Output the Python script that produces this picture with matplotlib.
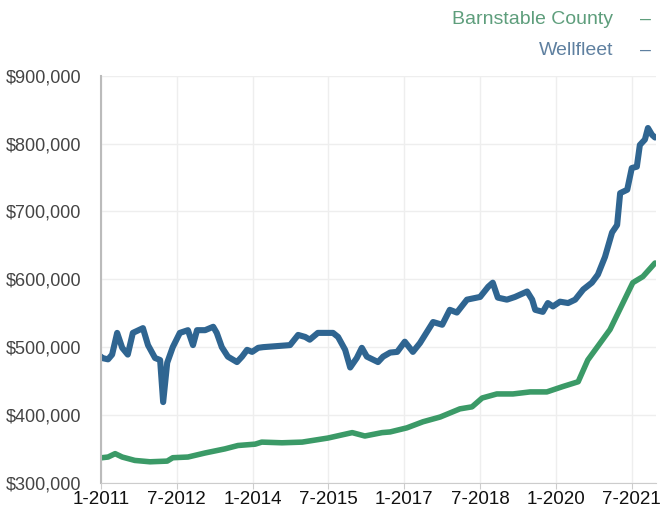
import matplotlib.pyplot as plt
import matplotlib.ticker as mticker

# median sale price, x = decimal year
wellfleet_t = [2011.00, 2011.02, 2011.14, 2011.22, 2011.32, 2011.42, 2011.53, 2011.63, 2011.83, 2011.93,
               2012.07, 2012.17, 2012.23, 2012.31, 2012.42, 2012.56, 2012.72, 2012.82, 2012.90, 2013.06,
               2013.22, 2013.29, 2013.39, 2013.51, 2013.69, 2013.79, 2013.89, 2013.99, 2014.11, 2014.21,
               2014.74, 2014.90, 2015.04, 2015.13, 2015.29, 2015.59, 2015.69, 2015.83, 2015.93, 2016.06,
               2016.16, 2016.26, 2016.48, 2016.58, 2016.72, 2016.86, 2017.01, 2017.17, 2017.31, 2017.57,
               2017.75, 2017.90, 2018.04, 2018.24, 2018.50, 2018.66, 2018.75, 2018.85, 2019.03, 2019.19,
               2019.43, 2019.53, 2019.59, 2019.74, 2019.84, 2019.94, 2020.08, 2020.24, 2020.38, 2020.54,
               2020.71, 2020.83, 2020.97, 2021.11, 2021.21, 2021.27, 2021.41, 2021.50, 2021.60, 2021.66,
               2021.76, 2021.82, 2021.90, 2021.96]
wellfleet = [486000, 484000, 482000, 489000, 521000, 499000, 489000, 521000, 528000, 503000,
             484000, 481000, 419000, 477000, 500000, 521000, 525000, 503000, 525000, 525000,
             530000, 521000, 500000, 486000, 478000, 486000, 496000, 493000, 499000, 500000,
             503000, 518000, 515000, 511000, 521000, 521000, 515000, 496000, 470000, 484000,
             499000, 486000, 478000, 486000, 492000, 493000, 508000, 493000, 506000, 537000,
             533000, 555000, 551000, 570000, 574000, 589000, 595000, 573000, 570000, 574000,
             582000, 570000, 555000, 552000, 565000, 560000, 567000, 565000, 570000, 585000,
             595000, 607000, 633000, 669000, 680000, 727000, 732000, 764000, 766000, 798000,
             806000, 823000, 813000, 809000]

barnstable_t = [2011.00, 2011.02, 2011.14, 2011.28, 2011.42, 2011.67, 2011.97, 2012.31, 2012.42, 2012.72,
                2013.06, 2013.45, 2013.71, 2014.05, 2014.18, 2014.58, 2014.98, 2015.49, 2015.97, 2016.22,
                2016.56, 2016.72, 2017.05, 2017.37, 2017.71, 2018.10, 2018.34, 2018.54, 2018.83, 2019.15,
                2019.49, 2019.82, 2020.14, 2020.44, 2020.63, 2021.07, 2021.52, 2021.72, 2021.96]
barnstable = [337000, 337000, 338000, 343000, 338000, 333000, 331000, 332000, 337000, 338000,
              344000, 350000, 355000, 357000, 360000, 359000, 360000, 366000, 374000, 369000,
              374000, 375000, 381000, 390000, 397000, 409000, 412000, 425000, 431000, 431000,
              434000, 434000, 442000, 449000, 481000, 526000, 595000, 604000, 624000]

tick_pos = [2011.0, 2012.5, 2014.0, 2015.5, 2017.0, 2018.5, 2020.0, 2021.5]
tick_lbl = ['1-2011', '7-2012', '1-2014', '7-2015', '1-2017', '7-2018', '1-2020', '7-2021']
y_ticks = [300000, 400000, 500000, 600000, 700000, 800000, 900000]

blue = '#2f6591'
green = '#3b9a67'

plt.rcParams['font.family'] = ['Liberation Sans', 'DejaVu Sans']

fig = plt.figure(figsize=(6.6, 5.12), dpi=100)
ax = fig.add_axes([0.153, 0.057, 0.841, 0.795])

ax.plot(barnstable_t, barnstable, color=green, lw=4.0, solid_capstyle='round', solid_joinstyle='round')
ax.plot(wellfleet_t, wellfleet, color=blue, lw=4.4, solid_capstyle='round', solid_joinstyle='round')

ax.set_xlim(2011.0, 2021.98)
ax.set_ylim(300000, 900000)
ax.set_xticks(tick_pos)
ax.set_xticklabels(tick_lbl)
ax.set_yticks(y_ticks)
ax.yaxis.set_major_formatter(mticker.FuncFormatter(lambda v, p: '${:,.0f}'.format(v)))

ax.grid(True, color='#eeeeee', lw=1)
ax.set_axisbelow(True)
for s in ['top', 'right']:
    ax.spines[s].set_visible(False)
ax.spines['left'].set_color('#bbbbbb')
ax.spines['bottom'].set_color('#cccccc')
ax.spines['left'].set_linewidth(1.5)
ax.tick_params(axis='x', length=4, color='#cccccc', labelsize=13.5, labelcolor='#111111', pad=2)
ax.tick_params(axis='y', length=0, labelsize=13, labelcolor='#444444', pad=14)

# legend drawn as text in the top right corner
fig.text(0.929, 0.962, 'Barnstable County', color='#5e9e7c', fontsize=14, ha='right', va='center')
fig.text(0.929, 0.902, 'Wellfleet', color='#5f80a0', fontsize=14, ha='right', va='center')
fig.text(0.986, 0.962, '–', color='#5e9e7c', fontsize=14, ha='right', va='center')
fig.text(0.986, 0.902, '–', color='#5f80a0', fontsize=14, ha='right', va='center')

fig.savefig('out.png', dpi=100)
